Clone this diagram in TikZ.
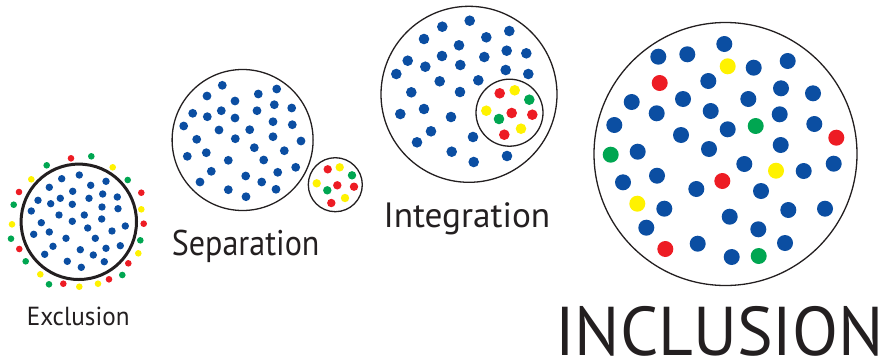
\documentclass[tikz,border=0pt]{standalone}
\usepackage{fontspec}
\setmainfont{PT Sans}
\definecolor{dblue}{HTML}{0B4EA2}
\definecolor{dred}{HTML}{ED1C24}
\definecolor{dyellow}{HTML}{FFF200}
\definecolor{dgreen}{HTML}{00A651}
\definecolor{ink}{HTML}{231F20}
\newcommand\fitcap[3]{\resizebox{#1}{#2}{\raisebox{0pt}[\fontcharht\font`E][0pt]{#3}}}
\tikzset{
  ring/.style={draw=ink, line width=1.3pt},
  thickring/.style={draw=ink, line width=3pt},
  lbl/.style={inner sep=0pt, anchor=base west, text=ink},
}
\begin{document}
\begin{tikzpicture}[x=1pt,y=-1pt]
\useasboundingbox (0,0) rectangle (888,362);
% ---------- Exclusion ----------
\foreach \x/\y in {79.3/175,61.7/178.7,49.3/187.3,90.7/185.3,106/181.3,72.7/191.3,60.3/198.3,89/198.3,102.7/194,117.3/197,38/200.3,50.7/203.7,72.3/204.3,102/207,118/208.7,31.3/211,59/215,84.3/215,101.7/219,41.3/222.7,72.3/221.3,87.7/228,125.3/226,49.3/232,33.7/234.3,66/238.3,112/231,95.3/238.3,53/246.3,120.3/245.7,80.3/249.7,106/248.3,44.7/254.3,93.3/255,67.3/261.3,104.3/261.7,81.3/267.3}
  \fill[dblue] (\x,\y) circle (3.7);
\draw[thickring] (78.8,221.8) circle (57.7);
\foreach \x/\y/\c in {71/158.3/dred,91.3/156.3/dgreen,112.7/167.3/dyellow,127.7/180/dgreen,141.3/192.7/dred,141.3/209.3/dyellow,143.7/223.7/dred,140.3/240.3/dgreen,138.3/253.3/dyellow,128.3/263.3/dred,122.3/275/dgreen,109/279.3/dred,98/283.7/dyellow,79.3/286.7/dyellow,63.3/283.7/dred,49/284.3/dgreen,40.3/274.3/dyellow,25.7/261.3/dgreen,19.3/249/dred,11/238.7/dgreen,12/224.3/dyellow,13.7/204.7/dgreen,19/192/dred,31.3/179.3/dyellow,46.7/165.3/dgreen}
  \fill[\c] (\x,\y) circle (3.3);
\node[lbl] (excl) at (26.7,325) {\fitcap{102.6pt}{18.3pt}{Exclusion}};
% ---------- Separation ----------
\draw[ring] (242.6,140) circle (70.5);
\foreach \x/\y in {222.3/85.3,207/96,258.3/94,276.7/89,235/101,192.7/113.3,207.3/116.7,221.3/110.7,257/110.7,274.3/104.7,291.7/108,235/118,183.7/126,219/130,249.7/129.7,273/121.7,292.3/124.7,196.7/139.3,235.3/138.7,273/136.7,301/141,254.3/147.7,187.3/156.3,206.3/152.7,284.3/150.7,228.3/160.3,263.7/160,211.3/171.3,295.7/167.3,277.7/172.3,245.7/176,200/182,261.7/182,228.3/189.7,276/189.3,246/196.7}
  \fill[dblue] (\x,\y) circle (4.4);
\draw[ring] (335.3,184.7) circle (27);
\foreach \x/\y/\c in {327.7/169.3/dred,339.7/167.3/dyellow,352/175.3/dgreen,316.7/183.3/dyellow,337.3/185.3/dred,354/186.7/dred,327.3/190.3/dgreen,345/198/dyellow,331.3/203/dred}
  \fill[\c] (\x,\y) circle (4.2);
\node[lbl] (sep) at (171.7,255) {\fitcap{147.6pt}{25pt}{Separation}};
% ---------- Integration ----------
\draw[ring] (469,94.3) circle (88);
\foreach \x/\y in {469.7/20.7,442.3/26.7,509.3/31,424/39,486.3/37.3,459/45.3,506.7/50.7,526.3/53.3,407.7/60.7,442/56,484.3/57,425.3/66.7,460.3/65,396.3/74,505.7/70,528.3/74,439.7/81.3,478.3/80.3,411.3/92.3,460/92,424/109,400.3/114,451/117,431/131.3,417/142.3,473/137,451.7/151.7,507/156,473.7/162}
  \fill[dblue] (\x,\y) circle (5.3);
\draw[ring] (509.5,112.7) circle (33.5);
\foreach \x/\y/\c in {499.7/93.3/dred,514.7/90.3/dyellow,529.3/99.7/dgreen,486.3/110.7/dyellow,511.7/113/dred,532.3/114.7/dred,499/119/dgreen,521/128.7/dyellow,504.3/134.7/dred}
  \fill[\c] (\x,\y) circle (5.3);
\node[lbl] (integ) at (383.3,227.3) {\fitcap{166.7pt}{24.6pt}{Integration}};
% ---------- Inclusion ----------
\draw[ring] (725.5,154) circle (131.5);
\foreach \x/\y in {724.3/44,658.3/56.7,687.3/54.3,753.7/67.7,787.7/61,708.3/81,781/88.3,813/93.3,631.7/102,683/99,748.3/99,656.7/113.3,710.7/111,779.7/114.3,614.3/125,814.3/124,681/135,727.7/129.3,709/149,780.7/145,637.7/151.7,744.3/164,803.7/171,833.7/163.7,623/182.3,657/175.7,696.3/189,761/191,664.3/208.7,729.7/216.7,788.3/210,825/208.7,646.3/227.7,758.3/229.3,697.7/243.7,785/243,731.7/257}
  \fill[dblue] (\x,\y) circle (8);
\foreach \x/\y/\c in {727.7/66.3/dyellow,776/170.7/dyellow,637.3/203.7/dyellow,659.7/83/dred,836.3/137.7/dred,722.3/181/dred,665.3/249/dred,755.7/126/dgreen,610.7/154.7/dgreen,758.7/256/dgreen}
  \fill[\c] (\x,\y) circle (8);
\node[lbl] (incl) at (555,355) {\fitcap{328.3pt}{48.3pt}{INCLUSION}};
\end{tikzpicture}
\end{document}
